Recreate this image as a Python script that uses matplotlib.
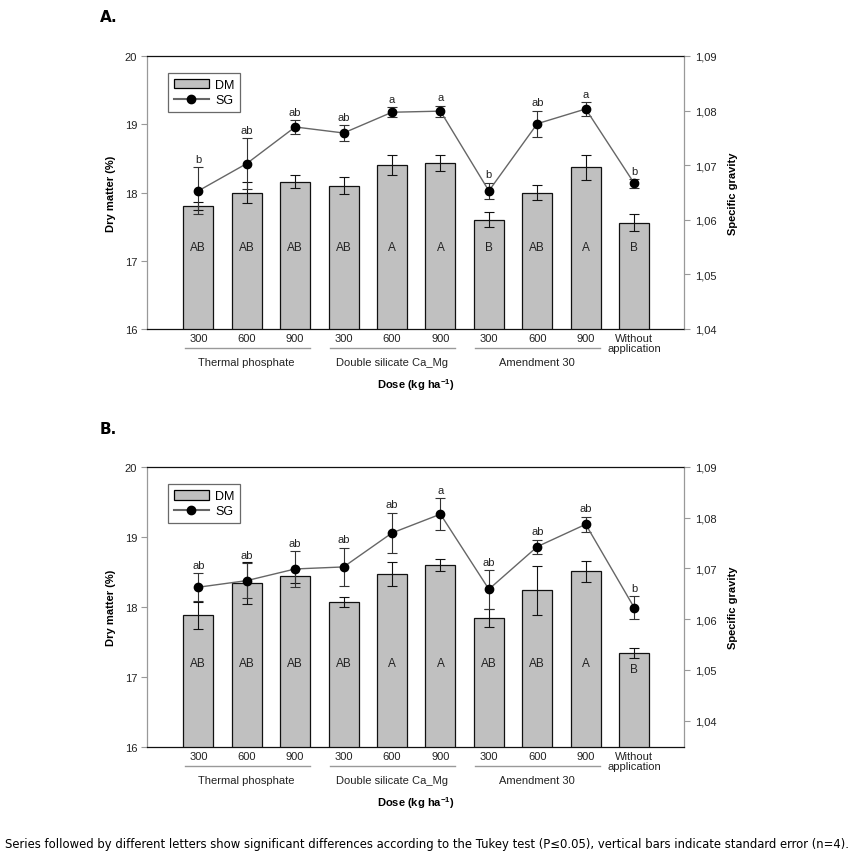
import matplotlib
matplotlib.use("Agg")
import matplotlib.pyplot as plt
from matplotlib.ticker import FuncFormatter, FixedLocator
from matplotlib.lines import Line2D
from matplotlib.patches import Patch

plt.rcParams["mathtext.fontset"] = "custom"
plt.rcParams["mathtext.rm"] = "Liberation Sans"
plt.rcParams["mathtext.bf"] = "Liberation Sans:bold"

doses = ["300", "600", "900", "300", "600", "900", "300", "600", "900", "Without\napplication"]
groups = ["Thermal phosphate", "Double silicate Ca_Mg", "Amendment 30"]

# Panel A
dm_a = [17.80, 18.00, 18.16, 18.10, 18.40, 18.43, 17.60, 18.00, 18.37, 17.56]
dm_a_err = [0.06, 0.15, 0.09, 0.12, 0.15, 0.12, 0.11, 0.11, 0.18, 0.13]
sg_a = [1.0653, 1.0703, 1.0770, 1.0759, 1.0797, 1.0799, 1.0653, 1.0776, 1.0803, 1.0667]
sg_a_err = [0.0043, 0.0047, 0.0013, 0.0015, 0.0009, 0.0010, 0.0015, 0.0024, 0.0013, 0.0008]
dm_a_letters = ["AB", "AB", "AB", "AB", "A", "A", "B", "AB", "A", "B"]
sg_a_letters = ["b", "ab", "ab", "ab", "a", "a", "b", "ab", "a", "b"]

# Panel B
dm_b = [17.88, 18.34, 18.44, 18.07, 18.47, 18.60, 17.84, 18.24, 18.51, 17.34]
dm_b_err = [0.19, 0.30, 0.10, 0.07, 0.17, 0.09, 0.13, 0.35, 0.15, 0.07]
sg_b = [1.0663, 1.0676, 1.0699, 1.0703, 1.0770, 1.0807, 1.0659, 1.0743, 1.0787, 1.0623]
sg_b_err = [0.0028, 0.0035, 0.0035, 0.0038, 0.0040, 0.0032, 0.0038, 0.0014, 0.0015, 0.0022]
dm_b_letters = ["AB", "AB", "AB", "AB", "A", "A", "AB", "AB", "A", "B"]
sg_b_letters = ["ab", "ab", "ab", "ab", "ab", "a", "ab", "ab", "ab", "b"]

FW, FH = 860, 862
fig = plt.figure(figsize=(FW / 100, FH / 100), dpi=100)
SANS = ["Liberation Sans", "DejaVu Sans"]
VER = ["DejaVu Sans"]
GRAY = "#999999"
TXT = "#222222"


def pax(l, t, r, b):
    return fig.add_axes([l / FW, 1 - b / FH, (r - l) / FW, (b - t) / FH])


def comma(v, pos):
    return ("%.2f" % v).replace(".", ",")


def panel(top, bottom, label, dm, dm_err, sg, sg_err, dm_let, sg_let, sg_lim, dm_let_y):
    left, right = 147, 684
    ax = pax(left, top, right, bottom)
    h = bottom - top
    x = list(range(len(dm)))
    ax.bar(x, dm, width=0.62, color="#c0c0c0", edgecolor="#111111", linewidth=0.9, zorder=2)
    ax.errorbar(x, dm, yerr=dm_err, fmt="none", ecolor="#111111", elinewidth=0.8,
                capsize=3.5, capthick=0.8, zorder=3)
    ax.set_xlim(-1.06, 10.03)
    ax.set_ylim(16, 20)
    ax.set_yticks([16, 17, 18, 19, 20])
    ax.tick_params(axis="y", direction="out", length=4, width=0.8, labelsize=8,
                   color=GRAY, labelcolor=TXT, pad=3)
    ax.set_xticks(x)
    ax.set_xticklabels(doses, fontsize=8, family=SANS, linespacing=1.0, color=TXT)
    ax.tick_params(axis="x", length=0, pad=3)
    for t in ax.get_yticklabels():
        t.set_family(SANS)
    for s in ax.spines.values():
        s.set_linewidth(0.9)
    ax.spines["left"].set_color(GRAY)
    ax.spines["right"].set_color(GRAY)
    ax.spines["top"].set_color("#111111")
    ax.spines["bottom"].set_color("#111111")
    ax.set_ylabel("Dry matter (%)", fontsize=8, fontweight="bold", family=SANS, labelpad=6)
    for xi, txt, yv in zip(x, dm_let, dm_let_y):
        ax.text(xi, yv, txt, ha="center", va="center", fontsize=8.5, family=SANS,
                color=TXT, zorder=4)

    ax2 = ax.twinx()
    ax2.set_ylim(*sg_lim)
    ax2.yaxis.set_major_locator(FixedLocator([1.04, 1.05, 1.06, 1.07, 1.08, 1.09]))
    ax2.yaxis.set_major_formatter(FuncFormatter(comma))
    ax2.tick_params(axis="y", direction="out", length=4, width=0.8, labelsize=8,
                    color=GRAY, labelcolor=TXT, pad=4)
    for t in ax2.get_yticklabels():
        t.set_family(SANS)
    for s in ax2.spines.values():
        s.set_visible(False)
    ax2.set_ylabel("Specific gravity", fontsize=8, fontweight="bold", family=SANS, labelpad=8)
    ax2.errorbar(x, sg, yerr=sg_err, fmt="none", ecolor="#333333", elinewidth=0.8,
                 capsize=3.5, capthick=0.8, zorder=3)
    ax2.plot(x, sg, color="#666666", linewidth=1.0, marker="o", markersize=6,
             markerfacecolor="black", markeredgecolor="black", zorder=4)
    rng = sg_lim[1] - sg_lim[0]
    for xi, v, e, txt in zip(x, sg, sg_err, sg_let):
        ax2.text(xi, v + e + rng * 0.012, txt, ha="center", va="bottom", fontsize=8,
                 family=SANS, color=TXT, zorder=5)

    # group underlines and labels
    tr = ax.get_xaxis_transform()
    ly = -19 / h
    for gi, g in enumerate(groups):
        x0 = gi * 3 - 0.28
        x1 = gi * 3 + 2 + 0.3
        ax.add_line(Line2D([x0, x1], [ly, ly], transform=tr, color=GRAY,
                           linewidth=1.0, clip_on=False))
        ax.text(gi * 3 + 1, -33 / h, g, transform=tr, ha="center", va="center",
                fontsize=8, family=SANS, color=TXT)
    ax.text(4.5, -55 / h, r"Dose (kg ha$^{\mathbf{-1}}$)", transform=tr, ha="center",
            va="center", fontsize=8, fontweight="bold", family=SANS)

    # legend
    handles = [Patch(facecolor="#c0c0c0", edgecolor="black", linewidth=0.9, label="DM"),
               Line2D([0], [0], color="#666666", marker="o", markersize=6,
                      markerfacecolor="black", markeredgecolor="black", label="SG")]
    leg = ax2.legend(handles=handles, loc="upper left", bbox_to_anchor=(0.028, 0.96),
                     frameon=True, fancybox=False, edgecolor="#444444",
                     handlelength=2.8, handleheight=0.8, borderpad=0.45, labelspacing=0.25,
                     handletextpad=0.5, prop={"family": SANS, "size": 9})
    leg.get_frame().set_linewidth(0.9)
    ax2.set_zorder(ax.get_zorder() + 1)
    ax2.patch.set_visible(False)

    fig.text(100 / FW, 1 - (top - 39) / FH, label, fontsize=11, fontweight="bold",
             family=VER, ha="left", va="center")
    return ax, ax2


panel(57, 330, "A.", dm_a, dm_a_err, sg_a, sg_a_err, dm_a_letters, sg_a_letters,
      (1.04, 1.09), [17.2] * 10)
panel(468, 748, "B.", dm_b, dm_b_err, sg_b, sg_b_err, dm_b_letters, sg_b_letters,
      (1.0348, 1.09), [17.2] * 9 + [17.12])

fig.text(5 / FW, 1 - 845 / FH,
         "Series followed by different letters show significant differences according to the Tukey test (P\u22640.05), vertical bars indicate standard error (n=4).",
         fontsize=8.4, family=VER, ha="left", va="center")

fig.savefig("out.png", dpi=100)
